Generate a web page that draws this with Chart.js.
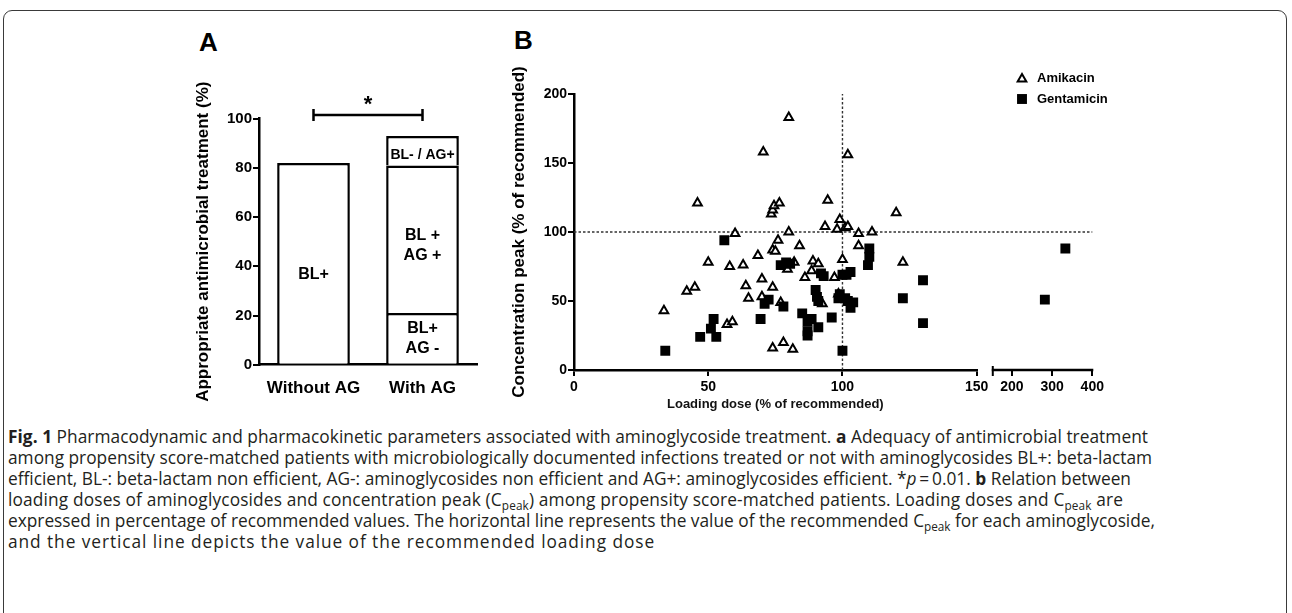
<!DOCTYPE html>
<html>
<head>
<meta charset="utf-8">
<script src="https://cdn.jsdelivr.net/npm/chart.js@4.4.1/dist/chart.umd.min.js"></script>
<style>
  html, body { margin:0; padding:0; background:#fff; }
  body { width:1292px; height:613px; position:relative; overflow:hidden; }
  #frame { position:absolute; left:3px; top:10px; width:1284px; height:660px; border:1.5px solid #3a3a3a; border-radius:9px; box-sizing:border-box; }
  .panel { position:absolute; }
  .panel canvas { display:block; }
  .letter { position:absolute; font-family:'Liberation Sans', Arial, sans-serif; font-weight:bold; font-size:26px; line-height:26px; color:#000; }
  #caption { position:absolute; left:8px; top:426px; font-family:'Open Sans', sans-serif; color:#231f20; font-size:16px; }
  #caption div { white-space:nowrap; height:21px; line-height:21px; width:max-content; }
  #caption sub { font-size:0.68em; line-height:0; vertical-align:-0.3em; }
</style>
</head>
<body>
<div id="frame"></div>
<div class="letter" style="left:199px;top:29px">A</div>
<div class="letter" style="left:514px;top:27px">B</div>
<div class="panel" style="left:180px;top:20px;"><canvas id="chartA" width="310" height="400"></canvas></div>
<div class="panel" style="left:490px;top:20px;"><canvas id="chartB" width="620" height="392"></canvas></div>
<div id="caption">
  <div id="cap1"><b>Fig. 1</b> Pharmacodynamic and pharmacokinetic parameters associated with aminoglycoside treatment. <b>a</b> Adequacy of antimicrobial treatment</div>
  <div id="cap2">among propensity score-matched patients with microbiologically documented infections treated or not with aminoglycosides BL+: beta-lactam</div>
  <div>efficient, BL-: beta-lactam non efficient, AG-: aminoglycosides non efficient and AG+: aminoglycosides efficient. *<i>p</i>&#8201;=&#8201;0.01. <b>b</b> Relation between</div>
  <div>loading doses of aminoglycosides and concentration peak (C<sub>peak</sub>) among propensity score-matched patients. Loading doses and C<sub>peak</sub> are</div>
  <div>expressed in percentage of recommended values. The horizontal line represents the value of the recommended C<sub>peak</sub> for each aminoglycoside,</div>
  <div>and the vertical line depicts the value of the recommended loading dose</div>
</div>
<script>
// ---------------- Panel A data ----------------
const groupsA = ['Without AG', 'With AG'];
const blPosAgNeg = [82, 21];      // bottom segment (Without AG: BL+ only)
const blPosAgPos = [null, 60];    // middle segment
const blNegAgPos = [null, 12];    // top segment
const segLabelsBottom = ['BL+', 'BL+\nAG -'];
const segLabelsMiddle = [null, 'BL +\nAG +'];
const segLabelsTop = [null, 'BL- / AG+'];
const yTicksA = [0, 20, 40, 60, 80, 100];
const sigLabel = '*';

// ---------------- Panel B data ----------------
const amikacinDose = [33.5,42,45,46,50,57,59,58,60,63,64,65,68.5,70,70,70.5,74,74,75,76,73.5,74,74.5,76.5,74,78,81.5,77,80,80,79.5,82,84,86,88.5,89,91,92.5,93.5,94.5,97,98,99,98.5,100,101,102,102,106,106,111,120,122.5];
const amikacinPeak = [43,57,60,121,78,33,35,75,99,76,61,52,83,66,53,158,60,87,86,94,113,116,119,121,16,20,15,49,183,100,73,78,90,67,72,79,77,48,104,123,67,102,109,55,80,103,104,156,99,90,100,114,78];
const gentamicinDose = [34,47,51,52,53,56,69.5,71,72.5,77,79,80.5,78,85,87,88.5,87,87,91,96,90,90.5,91,92,93,98.5,99,100,100,101,101.5,102,103,103,104,110,110,109.5,122.5,130,130,282,333];
const gentamicinPeak = [14,24,30,37,24,94,37,48,51,76,78,77,46,41,35,37,28,25,31,38,58,53,50,70,68,52,55,69,14,52,69,50,71,45,49,88,82,76,52,65,34,51,88];
const xTicksLeft = [0, 50, 100, 150];
const xTicksRight = [200, 300, 400];
const yTicksB = [0, 50, 100, 150, 200];
const axisBreak = 150;
const xMaxRight = 400;
const refDose = 100;   // recommended loading dose
const refPeak = 100;   // recommended Cpeak

// ---------------- common ----------------
const FONT = "'Liberation Sans', Arial, Helvetica, sans-serif";
Chart.defaults.font.family = FONT;
Chart.defaults.color = '#000';

// caption layout: fit font size, then match each line's right edge with tracking
(function(){
  const capRightEdges = [1148, 1152, 1131, 1123, 1155, 655];
  const cap = document.getElementById('caption');
  const w = document.getElementById('cap2').getBoundingClientRect().width;
  cap.style.fontSize = (16 * 1145 / w).toFixed(2) + 'px';
  const lines = cap.querySelectorAll('div');
  lines.forEach((d, i) => {
    const target = capRightEdges[i] - 8;
    const n = d.textContent.length;
    let ls = 0;
    for (let k = 0; k < 3; k++) {
      const delta = target - d.getBoundingClientRect().width;
      ls += delta / n;
      d.style.letterSpacing = ls.toFixed(3) + 'px';
    }
  });
})();

const tickGrid = {display:true, drawOnChartArea:false, drawTicks:true, tickLength:6, color:'#000', lineWidth:2};

// ---------------- Panel A ----------------
const segLabelPlugin = {
  id: 'segLabels',
  afterDatasetsDraw(chart, args, o) {
    const ctx = chart.ctx;
    ctx.save();
    ctx.fillStyle = '#000';
    ctx.textAlign = 'center';
    ctx.textBaseline = 'middle';
    chart.data.datasets.forEach((ds, di) => {
      const meta = chart.getDatasetMeta(di);
      meta.data.forEach((bar, i) => {
        const txt = ds.segLabels[i];
        if (!txt) return;
        const lines = txt.split('\n');
        ctx.font = 'bold ' + (lines.length > 1 || txt.length < 5 ? 16 : 14) + 'px ' + FONT;
        const cy = (bar.y + bar.base) / 2 + (o.shift[di][i] || 0);
        lines.forEach((l, k) => ctx.fillText(l, bar.x, cy + (k - (lines.length - 1) / 2) * o.lineHeight));
      });
    });
    // significance bracket between the two groups
    const x = chart.scales.x, y = chart.scales.y;
    const xa = x.getPixelForValue(0), xb = x.getPixelForValue(1);
    const yb = y.getPixelForValue(o.bracketValue);
    ctx.strokeStyle = '#000';
    ctx.lineWidth = 2.5;
    ctx.beginPath();
    ctx.moveTo(xa, yb); ctx.lineTo(xb, yb);
    ctx.moveTo(xa, yb - 6); ctx.lineTo(xa, yb + 6);
    ctx.moveTo(xb, yb - 6); ctx.lineTo(xb, yb + 6);
    ctx.stroke();
    ctx.font = 'bold 22px ' + FONT;
    ctx.fillText(sigLabel, (xa + xb) / 2, yb - 10);
    ctx.restore();
  }
};

const barStyle = {backgroundColor:'#fff', borderColor:'#000', borderWidth:2.5, borderSkipped:'bottom', barPercentage:0.667, categoryPercentage:1};

new Chart(document.getElementById('chartA'), {
  type: 'bar',
  data: {
    labels: groupsA,
    datasets: [
      Object.assign({label:'BL+ / AG-', data: blPosAgNeg, segLabels: segLabelsBottom}, barStyle),
      Object.assign({label:'BL+ / AG+', data: blPosAgPos, segLabels: segLabelsMiddle}, barStyle),
      Object.assign({label:'BL- / AG+', data: blNegAgPos, segLabels: segLabelsTop}, barStyle)
    ]
  },
  options: {
    responsive:false, animation:false,
    layout:{padding:{top:98.7, right:13, bottom:0, left:0}},
    plugins:{
      legend:{display:false}, tooltip:{enabled:false},
      segLabels:{shift:[[11, 0],[0, 6],[0, 4]], lineHeight:20, bracketValue:101.5}
    },
    scales:{
      x:{stacked:true, grid:{display:false}, border:{display:true, color:'#000', width:2.5},
         ticks:{color:'#000', font:{size:17, weight:'bold'}, padding:5, maxRotation:0},
         afterFit: s => { s.height = 55.3; }},
      y:{stacked:true, min:0, max:100,
         afterBuildTicks: s => { s.ticks = yTicksA.map(v => ({value:v})); },
         grid: tickGrid, border:{display:true, color:'#000', width:2.5},
         ticks:{color:'#000', font:{size:15, weight:'bold'}, padding:1},
         title:{display:true, text:'Appropriate antimicrobial treatment (%)', color:'#000', font:{size:17, weight:'bold'}, padding:{top:12.8, bottom:0}},
         afterFit: s => { s.width = 79; }}
    }
  },
  plugins:[segLabelPlugin]
});

// ---------------- Panel B ----------------
function split(xs, ys, right) {
  const out = [];
  xs.forEach((x, i) => { if ((x > axisBreak) === right) out.push({x:x, y:ys[i]}); });
  return out;
}
const amiStyle = {pointStyle:'triangle', pointRadius:5, pointBorderWidth:2, backgroundColor:'#fff', borderColor:'#000', pointHoverRadius:5, order:1};
const genStyle = {pointStyle:'rect', pointRadius:7, pointBorderWidth:0, backgroundColor:'#000', borderColor:'#000', pointHoverRadius:7, order:0};

const refLinesPlugin = {
  id:'refLines',
  beforeDatasetsDraw(chart) {
    const {ctx, scales:{x, x2, y}} = chart;
    ctx.save();
    ctx.strokeStyle = '#333'; ctx.lineWidth = 1.4; ctx.setLineDash([2.5, 2]);
    const yp = y.getPixelForValue(refPeak);
    ctx.beginPath(); ctx.moveTo(x.getPixelForValue(0), yp); ctx.lineTo(x2.getPixelForValue(xMaxRight), yp); ctx.stroke();
    const xp = x.getPixelForValue(refDose);
    ctx.beginPath(); ctx.moveTo(xp, y.getPixelForValue(0)); ctx.lineTo(xp, y.getPixelForValue(y.max)); ctx.stroke();
    ctx.restore();
  },
  afterDraw(chart) {
    // broken x axis: right segment
    const {ctx, scales:{x2}, chartArea:ca} = chart;
    const a = x2.getPixelForValue(axisBreak), b = x2.getPixelForValue(xMaxRight);
    ctx.save();
    ctx.strokeStyle = '#000';
    ctx.lineWidth = 2.5;
    ctx.beginPath(); ctx.moveTo(a, ca.bottom); ctx.lineTo(b + 1, ca.bottom); ctx.stroke();
    ctx.lineWidth = 2;
    ctx.beginPath(); ctx.moveTo(a + 1, ca.bottom - 4); ctx.lineTo(a + 1, ca.bottom + 6); ctx.stroke();
    ctx.restore();
  }
};

function drawMarker(ctx, d, cx, cy) {
  ctx.save();
  if (d.pointStyle === 'triangle') {
    const r = d.pointRadius;
    ctx.beginPath();
    for (let k = 0; k < 3; k++) {
      const a = k * 2 * Math.PI / 3;
      const px = cx + Math.sin(a) * r, py = cy - Math.cos(a) * r;
      if (k === 0) ctx.moveTo(px, py); else ctx.lineTo(px, py);
    }
    ctx.closePath();
    ctx.fillStyle = d.backgroundColor; ctx.fill();
    ctx.lineWidth = d.pointBorderWidth; ctx.strokeStyle = d.borderColor; ctx.stroke();
  } else {
    const s = d.pointRadius * Math.SQRT1_2;
    ctx.fillStyle = d.backgroundColor;
    ctx.fillRect(cx - s, cy - s, 2 * s, 2 * s);
  }
  ctx.restore();
}

const legendPlugin = {
  id:'cornerLegend',
  afterDraw(chart, args, o) {
    const {ctx, chartArea:ca} = chart;
    const items = chart.data.datasets.filter(d => d.inLegend);
    ctx.save();
    ctx.font = 'bold 13px ' + FONT;
    ctx.fillStyle = '#000'; ctx.textAlign = 'left'; ctx.textBaseline = 'middle';
    items.forEach((d, k) => {
      const cx = ca.right + o.offsetX, cy = ca.top + o.offsetY + k * o.gap;
      drawMarker(ctx, d, cx, cy + (d.pointStyle === 'triangle' ? 1 : 0));
      ctx.fillText(d.label, cx + o.textGap, cy);
    });
    ctx.restore();
  }
};

const xTickOpts = {color:'#000', font:{size:14, weight:'bold'}, padding:3, maxRotation:0, autoSkip:false};

new Chart(document.getElementById('chartB'), {
  type:'scatter',
  data:{
    datasets:[
      Object.assign({label:'Amikacin', inLegend:true, data: split(amikacinDose, amikacinPeak, false), xAxisID:'x', yAxisID:'y'}, amiStyle),
      Object.assign({label:'Amikacin', data: split(amikacinDose, amikacinPeak, true), xAxisID:'x2', yAxisID:'y'}, amiStyle),
      Object.assign({label:'Gentamicin', inLegend:true, data: split(gentamicinDose, gentamicinPeak, false), xAxisID:'x', yAxisID:'y'}, genStyle),
      Object.assign({label:'Gentamicin', data: split(gentamicinDose, gentamicinPeak, true), xAxisID:'x2', yAxisID:'y'}, genStyle)
    ]
  },
  options:{
    responsive:false, animation:false,
    layout:{padding:{top:74, right:17.7, bottom:0, left:0}},
    plugins:{legend:{display:false}, tooltip:{enabled:false},
      cornerLegend:{offsetX:-70.3, offsetY:-16, gap:21, textGap:15}},
    scales:{
      x:{type:'linear', position:'bottom', stack:'dose', stackWeight:402.7, min:0, max:axisBreak,
         afterBuildTicks: s => { s.ticks = xTicksLeft.map(v => ({value:v})); },
         grid: tickGrid, border:{display:true, color:'#000', width:2.5}, ticks: xTickOpts,
         title:{display:true, text:'Loading dose (% of recommended)', color:'#111', font:{size:13, weight:'bold'}, padding:{top:0, bottom:0}},
         afterFit: s => { s.height = 42; }},
      x2:{type:'linear', position:'bottom', stack:'dose', stackWeight:115.6, min:112.5, max:xMaxRight,
         afterBuildTicks: s => { s.ticks = xTicksRight.map(v => ({value:v})); },
         grid: tickGrid, border:{display:false}, ticks: xTickOpts,
         afterFit: s => { s.height = 42; }},
      y:{type:'linear', position:'left', min:0, max:200,
         afterBuildTicks: s => { s.ticks = yTicksB.map(v => ({value:v})); },
         grid: tickGrid, border:{display:true, color:'#000', width:2.5},
         ticks:{color:'#000', font:{size:14, weight:'bold'}, padding:1},
         title:{display:true, text:'Concentration peak (% of recommended)', color:'#000', font:{size:17, weight:'bold'}, padding:{top:18.8, bottom:0}},
         afterFit: s => { s.width = 84; }}
    }
  },
  plugins:[refLinesPlugin, legendPlugin]
});
</script>
</body>
</html>
